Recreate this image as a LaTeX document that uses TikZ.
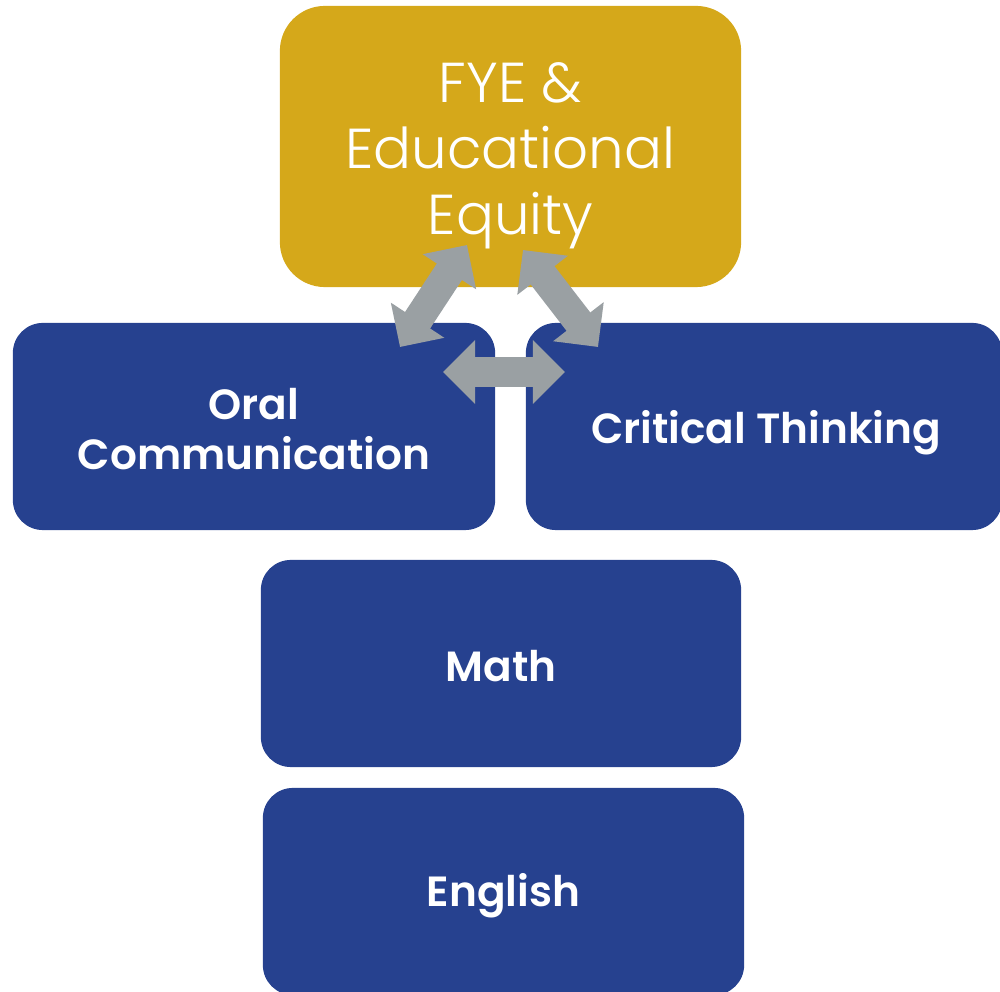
\documentclass[tikz,border=0pt]{standalone}
\usepackage{fontspec}
\setmainfont{Poppins}
\newfontfamily\lightfont{Poppins Light}
\newfontfamily\semifont{Poppins SemiBold}
\usepackage{xcolor}
\usetikzlibrary{arrows.meta}
\definecolor{fyegold}{HTML}{D5A81A}
\definecolor{areablue}{HTML}{26418F}
\definecolor{linkgray}{HTML}{9AA0A3}
\tikzset{
    area/.style={fill=areablue, rounded corners=0.3cm, minimum height=2.07cm},
    areatext/.style={text=white, align=center, inner sep=0pt,
        font=\fontsize{12}{14.2}\selectfont\semifont},
    link/.style={linkgray, line width=0.3cm,
        {Triangle[length=0.32cm,width=0.62cm]}-{Triangle[length=0.32cm,width=0.62cm]}},
}

\begin{document}
\begin{tikzpicture}[x=0.01cm, y=-0.01cm]
    \useasboundingbox (0,0) rectangle (1000,992);

    \node[fill=fyegold, rounded corners=0.45cm, minimum width=4.61cm, minimum height=2.81cm] (fye) at (510.5,146.5) {};
    \node[text=white, align=center, font=\fontsize{16}{18.8}\selectfont\lightfont] (fyetext) at (510.5,156) {FYE \&\\Educational\\Equity};

    \node[area, minimum width=4.82cm] (oral) at (254,426.5) {};
    \node[area, minimum width=4.76cm] (crit) at (764,426.5) {};
    \node[area, minimum width=4.80cm] (math) at (501,663.5) {};
    \node[area, minimum width=4.81cm] (eng) at (503.5,891.5) {};

    \node[areatext] (oraltext) at (254,429) {Oral\\Communication};
    \node[areatext] (crittext) at (766,433) {Critical Thinking};
    \node[areatext] (mathtext) at (501,666) {Math};
    \node[areatext] (engtext) at (503.5,896) {English};

    % arrow tips
    \coordinate (fyeL) at (467,245);
    \coordinate (fyeR) at (523,250);
    \coordinate (oralT) at (400,347);
    \coordinate (oralR) at (443,372);
    \coordinate (critT) at (598,347);
    \coordinate (critL) at (565,372);

    \draw[link] (oralT) -- (fyeL);
    \draw[link] (fyeR) -- (critT);
    \draw[link] (oralR) -- (critL);
\end{tikzpicture}
\end{document}
